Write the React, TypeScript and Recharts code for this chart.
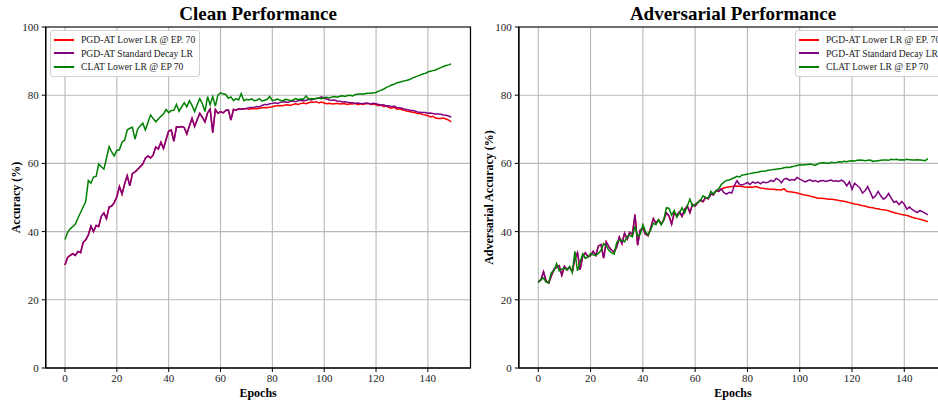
import React from "react";
import { LineChart, Line, XAxis, YAxis, CartesianGrid, ReferenceArea, Label } from "recharts";

const FONT = "'Liberation Serif', 'Times New Roman', serif";

const seriesNames = ["PGD-AT Lower LR @ EP. 70", "PGD-AT Standard Decay LR", "CLAT Lower LR @ EP 70"];
const seriesColors = ["#ff0000", "#800080", "#008000"];
const xTicks = [0, 20, 40, 60, 80, 100, 120, 140];
const yTicks = [0, 20, 40, 60, 80, 100];

// Clean accuracy, epochs 0-70 (both PGD-AT runs identical before the LR change)
const cleanSharedEarly = [
  30.2, 32.4, 33.0, 33.5, 33.0, 34.2, 33.8, 36.8, 37.6, 39.0,
  41.6, 40.0, 41.8, 41.5, 44.5, 45.5, 43.8, 47.2, 47.5, 48.5,
  50.2, 53.2, 51.0, 54.0, 56.4, 53.4, 57.0, 57.5, 58.2, 59.0,
  59.8, 61.5, 62.2, 61.6, 62.4, 64.8, 64.2, 66.2, 64.4, 67.0,
  69.5, 69.8, 66.5, 70.7, 70.6, 70.8, 70.5, 68.6, 71.0, 73.2,
  70.8, 72.8, 74.7, 73.5, 72.2, 74.8, 75.9, 69.0, 75.8, 74.7,
  75.2, 74.8, 75.5, 75.7, 72.7, 75.8, 75.6, 76.0, 75.9, 76.0,
  76.1,
];
// epochs 71-149
const cleanStdDecayTail = [
  76.3, 76.4, 76.5, 76.7, 76.6, 77.0, 77.3, 77.2, 77.5,
  77.6, 77.8, 77.6, 77.9, 78.0, 78.1, 77.9, 78.2, 78.3, 78.1,
  78.4, 78.5, 78.3, 78.5, 78.8, 78.6, 78.9, 79.0, 79.2, 79.5,
  79.1, 78.9, 78.6, 78.5, 78.6, 78.3, 78.2, 78.0, 78.1, 77.9,
  77.8, 77.8, 77.6, 77.7, 77.6, 77.5, 77.7, 77.6, 77.4, 77.6,
  77.5, 77.3, 77.1, 77.2, 76.8, 76.9, 76.6, 76.8, 76.4, 76.3,
  76.2, 75.9, 75.8, 75.6, 75.5, 75.4, 75.1, 75.0, 74.9, 74.9,
  74.7, 74.8, 74.6, 74.5, 74.5, 74.4, 74.2, 74.1, 73.9, 73.6,
];
const cleanLowerLrTail = [
  75.9, 76.0, 76.1, 76.0, 76.2, 76.3, 76.4, 76.3, 76.5,
  76.6, 76.8, 76.9, 77.0, 76.9, 77.1, 77.2, 77.0, 77.3, 77.5,
  77.3, 77.6, 77.7, 77.5, 77.8, 78.0, 77.9, 78.1, 77.7, 78.0,
  77.7, 77.5, 77.6, 77.4, 77.5, 77.6, 77.4, 77.5, 77.5, 77.3,
  77.5, 77.4, 77.6, 77.2, 77.5, 77.3, 77.5, 77.6, 77.3, 77.4,
  77.2, 76.9, 77.1, 76.6, 76.8, 76.4, 76.2, 76.5, 75.9, 76.0,
  75.7, 75.6, 75.3, 75.2, 75.0, 74.9, 74.6, 74.7, 74.3, 74.2,
  74.0, 73.6, 73.8, 73.3, 73.2, 73.2, 73.3, 73.0, 72.7, 72.2,
];
const cleanClat = [
  37.7, 39.8, 40.8, 41.5, 42.2, 44.0, 45.6, 47.2, 48.8, 55.0,
  54.2, 56.0, 56.2, 59.8, 59.0, 58.3, 61.5, 64.9, 63.4, 62.2,
  63.8, 64.0, 66.2, 66.8, 69.8, 70.3, 70.6, 67.1, 70.0, 71.0,
  71.8, 69.8, 72.0, 74.2, 73.2, 72.2, 73.0, 73.8, 74.5, 75.8,
  74.9, 75.5, 75.6, 77.3, 75.3, 76.6, 77.8, 76.6, 78.4, 77.0,
  75.2, 77.2, 79.0, 77.5, 75.2, 79.6, 77.2, 79.6, 76.8, 80.0,
  80.7, 80.4, 80.2, 79.1, 79.5, 78.4, 79.0, 78.6, 80.5, 78.4,
  78.8, 78.6, 78.9, 78.4, 78.5, 79.0, 78.3, 78.5, 78.8, 79.6,
  78.4, 78.6, 78.9, 78.5, 78.3, 78.8, 78.7, 78.4, 78.6, 79.0,
  78.7, 78.9, 78.8, 79.8, 78.8, 79.0, 78.9, 79.1, 79.2, 79.0,
  79.3, 79.4, 79.2, 79.5, 79.6, 79.4, 79.7, 79.8, 79.6, 79.9,
  80.0, 79.8, 80.2, 80.3, 80.4, 80.3, 80.5, 80.6, 80.6, 80.7,
  80.8, 81.2, 81.5, 81.8, 82.3, 82.6, 83.0, 83.2, 83.6, 83.8,
  84.0, 84.2, 84.4, 84.6, 85.0, 85.3, 85.6, 85.9, 86.2, 86.4,
  86.8, 87.0, 87.2, 87.4, 87.8, 88.1, 88.4, 88.7, 88.9, 89.2,
];

// Adversarial accuracy, epochs 0-70 (PGD-AT runs)
const advSharedEarly = [
  25.3, 25.8, 28.2, 25.5, 24.9, 27.0, 29.0, 29.5, 30.0, 27.2,
  29.8, 28.8, 29.6, 28.2, 32.0, 33.8, 28.8, 32.8, 33.8, 32.6,
  33.0, 34.2, 33.0, 35.8, 36.2, 32.2, 37.0, 35.5, 34.6, 34.0,
  35.5, 38.4, 36.5, 39.5, 37.8, 39.8, 39.2, 45.0, 36.0, 40.5,
  41.0, 39.2, 38.8, 41.0, 43.8, 42.5, 43.4, 42.2, 43.4, 45.5,
  44.6, 42.2, 45.5, 44.8, 45.8, 44.5, 46.5, 47.5, 45.6, 48.0,
  47.5, 48.5, 49.3, 48.8, 50.0, 49.6, 51.0, 50.8, 52.0, 51.8,
  52.5,
];
const advLowerLrTail = [
  52.8, 53.0, 53.1, 53.2, 53.3, 53.4, 53.3, 53.2, 53.1,
  53.0, 53.1, 53.0, 53.2, 53.0, 52.8, 52.7, 52.6, 52.5, 52.4,
  52.4, 52.3, 52.3, 52.2, 52.6, 51.8, 51.7, 51.6, 51.5, 51.3,
  51.1, 50.9, 50.7, 50.6, 50.4, 50.2, 50.0, 49.8, 49.8, 49.7,
  49.6, 49.5, 49.5, 49.4, 49.3, 49.1, 49.0, 48.9, 48.7, 48.5,
  48.3, 48.1, 48.0, 47.8, 47.6, 47.5, 47.2, 47.1, 47.0, 46.8,
  46.7, 46.5, 46.4, 46.3, 46.1, 45.8, 45.6, 45.4, 45.2, 45.0,
  44.9, 44.7, 44.5, 44.2, 44.0, 43.8, 43.6, 43.4, 43.2, 42.9,
];
const advStdDecayTail = [
  51.4, 51.0, 51.5, 51.3, 53.5, 54.9, 53.8, 53.7, 54.0,
  54.4, 53.8, 54.6, 54.2, 54.5, 54.0, 54.6, 54.3, 54.5, 55.0,
  54.7, 55.6, 55.2, 54.3, 55.4, 55.6, 55.0, 55.3, 55.1, 55.9,
  55.4, 55.0, 54.6, 54.9, 55.2, 54.7, 55.0, 54.6, 54.9, 55.0,
  54.7, 54.9, 55.1, 54.8, 54.9, 54.7, 55.1, 54.6, 53.4, 54.6,
  52.4, 54.2, 53.5, 52.8, 51.3, 52.0, 53.2, 51.5, 49.8, 50.5,
  51.8, 50.5, 49.5, 50.0, 51.2, 49.8, 48.6, 48.9, 47.9, 48.8,
  48.0, 46.6, 47.2, 46.5, 46.0, 45.6, 46.2, 45.8, 45.4, 44.9,
];
const advClat = [
  25.0, 26.0, 26.4, 25.2, 25.0, 28.0, 28.5, 30.6, 28.5, 29.0,
  29.3, 28.8, 29.8, 28.0, 34.2, 28.5, 31.0, 33.5, 32.2, 32.5,
  33.5, 33.2, 33.0, 33.6, 34.5, 36.5, 35.8, 34.5, 33.8, 33.4,
  36.8, 37.5, 37.5, 37.0, 38.5, 39.0, 38.5, 41.6, 38.6, 39.2,
  42.0, 40.0, 39.0, 40.5, 42.5, 42.0, 43.5, 42.0, 43.5, 47.0,
  46.8, 44.8, 46.2, 44.2, 45.5, 47.0, 45.5, 47.5, 49.5, 47.5,
  48.0, 48.6, 49.0, 50.5, 50.0, 49.8, 51.8, 51.0, 52.0, 52.5,
  53.8, 54.5, 55.0, 55.1, 55.5, 55.8, 56.2, 56.0, 56.6, 56.7,
  56.9, 57.0, 57.2, 57.3, 57.4, 57.6, 57.7, 57.8, 58.0, 58.1,
  58.2, 58.3, 58.4, 58.5, 58.7, 58.9, 58.8, 59.0, 59.2, 59.4,
  59.6, 59.5, 59.6, 59.7, 59.8, 59.6, 59.5, 59.9, 60.1, 60.2,
  60.1, 60.0, 60.3, 60.2, 60.3, 60.5, 60.4, 60.6, 60.5, 60.7,
  60.8, 60.7, 60.9, 61.0, 60.9, 60.8, 60.9, 61.0, 60.6, 60.7,
  60.8, 60.9, 61.0, 61.0, 60.9, 61.2, 61.1, 61.2, 61.0, 61.1,
  61.0, 61.2, 61.1, 61.0, 61.0, 61.1, 61.0, 60.9, 60.8, 61.4,
];

function buildTable(shared: number[], lowerTail: number[], stdTail: number[], clat: number[]) {
  const lower = shared.concat(lowerTail);
  const std = shared.concat(stdTail);
  return clat.map((g, i) => ({ epoch: i, lower: lower[i], std: std[i], clat: g }));
}

const cleanData = buildTable(cleanSharedEarly, cleanLowerLrTail, cleanStdDecayTail, cleanClat);
const advData = buildTable(advSharedEarly, advLowerLrTail, advStdDecayTail, advClat);

const X_DOMAIN: [number, number] = [-7.45, 156.45];

function LegendBox({ left, top }: { left: number; top: number }) {
  return (
    <div
      style={{
        position: "absolute",
        left,
        top,
        padding: "2px 4px 2px 3px",
        border: "1px solid #d0d0d0",
        borderRadius: 3,
        background: "rgba(255,255,255,0.85)",
        fontFamily: FONT,
        fontSize: 9.6,
        color: "#222",
        zIndex: 2,
        whiteSpace: "nowrap",
      }}
    >
      {seriesNames.map((n, i) => (
        <div key={n} style={{ display: "flex", alignItems: "center", height: 13.5 }}>
          <div style={{ width: 20, height: 1.6, background: seriesColors[i], marginRight: 7 }} />
          <span>{n}</span>
        </div>
      ))}
    </div>
  );
}

function Panel({
  data,
  title,
  ylabel,
  ylabelX,
  left,
  width,
  marginLeft,
  marginRight,
  legendLeft,
}: {
  data: any[];
  title: string;
  ylabel: string;
  ylabelX: number;
  left: number;
  width: number;
  marginLeft: number;
  marginRight: number;
  legendLeft: number;
}) {
  const axisTick = { fill: "#222", fontSize: 11, fontFamily: FONT };
  const yMid = (27 + 368) / 2;
  return (
    <div style={{ position: "absolute", left, top: 0, width, height: 401 }}>
      <div
        style={{
          position: "absolute",
          left: marginLeft,
          width: width - marginLeft - marginRight,
          top: 3,
          textAlign: "center",
          fontFamily: FONT,
          fontWeight: "bold",
          fontSize: 19,
          color: "#000",
        }}
      >
        {title}
      </div>
      <LineChart
        width={width}
        height={401}
        data={data}
        margin={{ top: 27, right: marginRight, bottom: 0, left: 0 }}
      >
        <CartesianGrid stroke="#b8b8b8" strokeWidth={1.1} />
        <XAxis
          dataKey="epoch"
          type="number"
          domain={X_DOMAIN}
          ticks={xTicks}
          allowDataOverflow
          height={33}
          tick={axisTick}
          tickSize={4}
          tickMargin={2}
          tickLine={{ stroke: "#000" }}
          axisLine={{ stroke: "#000", strokeWidth: 1.2 }}
        >
          <Label
            value="Epochs"
            position="insideBottom"
            offset={4}
            style={{ fontFamily: FONT, fontWeight: "bold", fontSize: 12, fill: "#000" }}
          />
        </XAxis>
        <YAxis
          type="number"
          domain={[0, 100]}
          ticks={yTicks}
          allowDataOverflow
          width={marginLeft}
          tick={axisTick}
          tickSize={4}
          tickMargin={3}
          tickLine={{ stroke: "#000" }}
          axisLine={{ stroke: "#000", strokeWidth: 1.2 }}
        >
          <Label
            content={() => (
              <text
                x={ylabelX}
                y={yMid}
                transform={`rotate(-90 ${ylabelX} ${yMid})`}
                textAnchor="middle"
                dominantBaseline="central"
                style={{ fontFamily: FONT, fontWeight: "bold", fontSize: 12, fill: "#000" }}
              >
                {ylabel}
              </text>
            )}
          />
        </YAxis>
        <Line type="linear" dataKey="lower" stroke={seriesColors[0]} strokeWidth={1.5} dot={false} isAnimationActive={false} />
        <Line type="linear" dataKey="std" stroke={seriesColors[1]} strokeWidth={1.5} dot={false} isAnimationActive={false} />
        <Line type="linear" dataKey="clat" stroke={seriesColors[2]} strokeWidth={1.5} dot={false} isAnimationActive={false} />
        <ReferenceArea
          x1={X_DOMAIN[0]}
          x2={X_DOMAIN[1]}
          y1={0}
          y2={100}
          fill="none"
          fillOpacity={0}
          stroke="#000"
          strokeWidth={1.2}
          ifOverflow="visible"
        />
      </LineChart>
      <LegendBox left={legendLeft} top={30} />
    </div>
  );
}

export default function App() {
  return (
    <div
      style={{
        position: "fixed",
        left: 0,
        top: 0,
        width: 938,
        height: 401,
        overflow: "hidden",
        background: "#fff",
      }}
    >
      <Panel
        data={cleanData}
        title="Clean Performance"
        ylabel="Accuracy (%)"
        ylabelX={16}
        left={0}
        width={480}
        marginLeft={45.7}
        marginRight={9.5}
        legendLeft={50}
      />
      <Panel
        data={advData}
        title="Adversarial Performance"
        ylabel="Adversarial Accuracy (%)"
        ylabelX={8.5}
        left={480}
        width={480}
        marginLeft={38.8}
        marginRight={12.7}
        legendLeft={315}
      />
    </div>
  );
}
